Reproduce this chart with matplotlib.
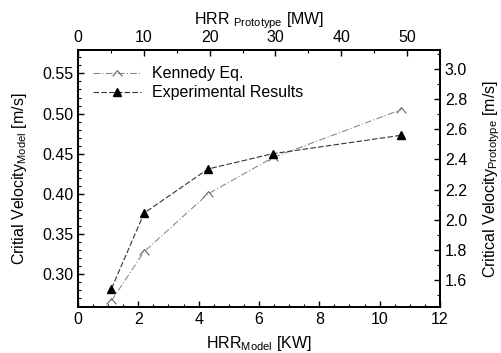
import matplotlib
matplotlib.use("Agg")
from matplotlib import pyplot as plt
from matplotlib.path import Path
from matplotlib.ticker import MultipleLocator

# data
hrr_model = [1.11, 2.19, 4.31, 6.45, 10.72]        # KW
kennedy = [0.267, 0.328, 0.400, 0.445, 0.505]      # m/s
experimental = [0.282, 0.376, 0.431, 0.450, 0.473] # m/s

plt.rcParams['font.family'] = ['Liberation Sans', 'DejaVu Sans']
plt.rcParams['mathtext.fontset'] = 'custom'
plt.rcParams['mathtext.rm'] = 'Liberation Sans'
plt.rcParams['mathtext.it'] = 'Liberation Sans'
plt.rcParams['font.size'] = 11.5

# open caret marker
caret = Path([(-1, -0.6), (0, 0.6), (1, -0.6)], [Path.MOVETO, Path.LINETO, Path.LINETO])

fig = plt.figure(figsize=(5.01, 3.53), dpi=100)
ax = fig.add_axes([0.1557, 0.130, 0.7225, 0.728])

ax.plot(hrr_model, kennedy, color='#8a8a8a', lw=0.8, linestyle=(0, (6, 2, 1, 2)),
        marker=caret, markersize=7, markerfacecolor='none', markeredgecolor='#666666',
        markeredgewidth=0.8, label="Kennedy Eq.")
ax.plot(hrr_model, experimental, color='#333333', lw=0.8, linestyle=(0, (5, 2)),
        marker='^', markersize=6, markerfacecolor='black', markeredgecolor='black',
        label="Experimental Results")

ax.set_xlim(0, 12)
ax.set_ylim(0.259, 0.579)
ax.xaxis.set_major_locator(MultipleLocator(2))
ax.xaxis.set_minor_locator(MultipleLocator(0.5))
ax.yaxis.set_minor_locator(MultipleLocator(0.01))
ax.set_yticks([0.30, 0.35, 0.40, 0.45, 0.50, 0.55])
ax.set_yticklabels(["0.30", "0.35", "0.40", "0.45", "0.50", "0.55"])
ax.tick_params(which='both', direction='in', top=False, right=False)
ax.tick_params(which='major', length=4, width=1)
ax.tick_params(which='minor', length=2, width=0.8)
ax.set_xlabel("HRR$_{\\mathrm{Model}}$ [KW]", labelpad=5)
ax.set_ylabel("Critial Velocity$_{\\mathrm{Model}}$ [m/s]", labelpad=9)

# top axis: prototype HRR
axt = ax.twiny()
axt.set_xlim(0, 55)
axt.xaxis.set_major_locator(MultipleLocator(10))
axt.xaxis.set_minor_locator(MultipleLocator(5))
axt.tick_params(which='both', direction='in')
axt.tick_params(which='major', length=4, width=1)
axt.tick_params(which='minor', length=2, width=0.8)
axt.set_xlabel("HRR $_{\\mathrm{Prototype}}$ [MW]", labelpad=4)

# right axis: prototype velocity
axr = ax.twinx()
axr.set_ylim(1.42, 3.126)
axr.yaxis.set_major_locator(MultipleLocator(0.2))
axr.yaxis.set_minor_locator(MultipleLocator(0.1))
axr.tick_params(which='both', direction='in')
axr.tick_params(which='major', length=4, width=1)
axr.tick_params(which='minor', length=2, width=0.8)
axr.set_ylabel("Critical Velocity$_{\\mathrm{Prototype}}$ [m/s]", labelpad=10)

for a in (ax, axt, axr):
    for s in a.spines.values():
        s.set_linewidth(1.2)

ax.legend(loc='upper left', frameon=False, handlelength=3, borderaxespad=0.3,
          labelspacing=0.25, bbox_to_anchor=(0.01, 0.98), handletextpad=0.7)

fig.savefig('out.png', dpi=100)
